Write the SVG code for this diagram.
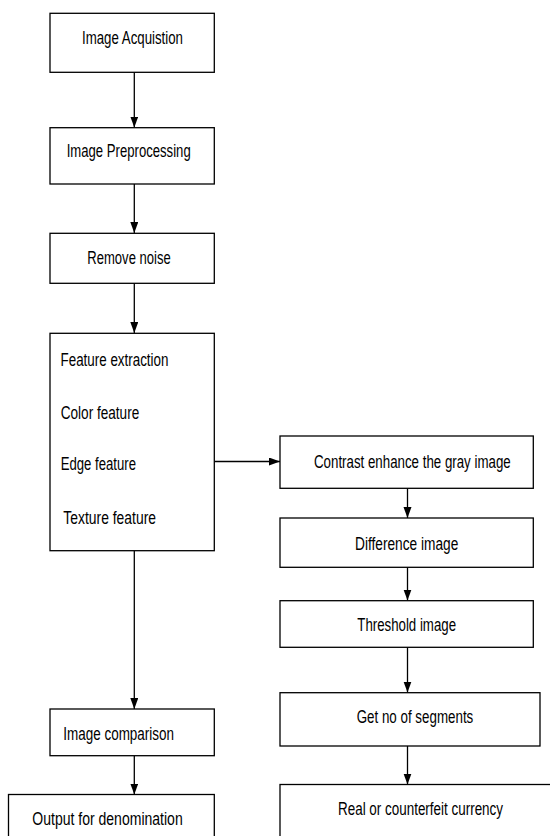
<svg xmlns="http://www.w3.org/2000/svg" width="550" height="836" viewBox="0 0 550 836">
<style>
.box{fill:#fff;stroke:#000;stroke-width:1.3}
.lbl{font-family:"Liberation Sans",Arial,sans-serif;font-size:18.5px;fill:#000}
.con{fill:none;stroke:#000;stroke-width:1.3}
</style>
<defs>
<marker id="ah" markerUnits="userSpaceOnUse" markerWidth="12" markerHeight="10" refX="11" refY="4" orient="auto">
<path d="M0,0 L11,4 L0,8 Z" fill="#000"/>
</marker>
</defs>
<rect width="550" height="836" fill="#fff"/>
<g id="connectors">
<line class="con" x1="134.3" y1="72.3" x2="134.3" y2="127.5" marker-end="url(#ah)"/>
<line class="con" x1="134.3" y1="184" x2="134.3" y2="233" marker-end="url(#ah)"/>
<line class="con" x1="134.3" y1="283.3" x2="134.3" y2="333" marker-end="url(#ah)"/>
<line class="con" x1="214.3" y1="461.5" x2="280" y2="461.5" marker-end="url(#ah)"/>
<line class="con" x1="407.5" y1="488.3" x2="407.5" y2="518" marker-end="url(#ah)"/>
<line class="con" x1="407.5" y1="567.3" x2="407.5" y2="600.5" marker-end="url(#ah)"/>
<line class="con" x1="407.5" y1="647.3" x2="407.5" y2="692.5" marker-end="url(#ah)"/>
<line class="con" x1="407.5" y1="746" x2="407.5" y2="784.5" marker-end="url(#ah)"/>
<line class="con" x1="134.3" y1="550.7" x2="134.3" y2="709" marker-end="url(#ah)"/>
<line class="con" x1="134.3" y1="755.7" x2="134.3" y2="794.5" marker-end="url(#ah)"/>
</g>
<g id="acquisition">
<rect class="box" x="50" y="13.3" width="164.3" height="59"/>
<text class="lbl" transform="translate(82,44.3) scale(0.735,1)" textLength="137.4" lengthAdjust="spacingAndGlyphs">Image Acquistion</text>
</g>
<g id="preprocessing">
<rect class="box" x="50" y="127.7" width="164.3" height="56.3"/>
<text class="lbl" transform="translate(66.7,156.7) scale(0.735,1)" textLength="168.7" lengthAdjust="spacingAndGlyphs">Image Preprocessing</text>
</g>
<g id="remove-noise">
<rect class="box" x="50" y="233.3" width="164.3" height="50"/>
<text class="lbl" transform="translate(87.3,263.5) scale(0.735,1)" textLength="113.5" lengthAdjust="spacingAndGlyphs">Remove noise</text>
</g>
<g id="feature-extraction">
<rect class="box" x="50" y="333.3" width="164.3" height="217.4"/>
<text class="lbl" transform="translate(60.5,365.7) scale(0.735,1)" textLength="146.9" lengthAdjust="spacingAndGlyphs">Feature extraction</text>
<text class="lbl" transform="translate(60.7,418.5) scale(0.735,1)" textLength="106.9" lengthAdjust="spacingAndGlyphs">Color feature</text>
<text class="lbl" transform="translate(60.7,470) scale(0.735,1)" textLength="102.4" lengthAdjust="spacingAndGlyphs">Edge feature</text>
<text class="lbl" transform="translate(63.3,523.5) scale(0.735,1)" textLength="126.1" lengthAdjust="spacingAndGlyphs">Texture feature</text>
</g>
<g id="image-comparison">
<rect class="box" x="50" y="709" width="164.3" height="46.7"/>
<text class="lbl" transform="translate(63.3,740) scale(0.735,1)" textLength="150.6" lengthAdjust="spacingAndGlyphs">Image comparison</text>
</g>
<g id="output">
<rect class="box" x="8.5" y="794.5" width="205.8" height="60"/>
<text class="lbl" transform="translate(32.3,825) scale(0.735,1)" textLength="204.6" lengthAdjust="spacingAndGlyphs">Output for denomination</text>
</g>
<g id="contrast">
<rect class="box" x="280" y="436" width="253.3" height="52.3"/>
<text class="lbl" transform="translate(314,467.5) scale(0.735,1)" textLength="267.6" lengthAdjust="spacingAndGlyphs">Contrast enhance the gray image</text>
</g>
<g id="difference">
<rect class="box" x="280" y="518" width="253.3" height="49.3"/>
<text class="lbl" transform="translate(355,550) scale(0.735,1)" textLength="140.5" lengthAdjust="spacingAndGlyphs">Difference image</text>
</g>
<g id="threshold">
<rect class="box" x="280" y="600.7" width="253.3" height="46.6"/>
<text class="lbl" transform="translate(357.3,630.7) scale(0.735,1)" textLength="134.3" lengthAdjust="spacingAndGlyphs">Threshold image</text>
</g>
<g id="segments">
<rect class="box" x="280" y="692.7" width="260" height="53.3"/>
<text class="lbl" transform="translate(356.7,722.7) scale(0.735,1)" textLength="158.6" lengthAdjust="spacingAndGlyphs">Get no of segments</text>
</g>
<g id="result">
<rect class="box" x="280" y="784.5" width="280" height="70"/>
<text class="lbl" transform="translate(338,815) scale(0.735,1)" textLength="224.5" lengthAdjust="spacingAndGlyphs">Real or counterfeit currency</text>
</g>
</svg>
